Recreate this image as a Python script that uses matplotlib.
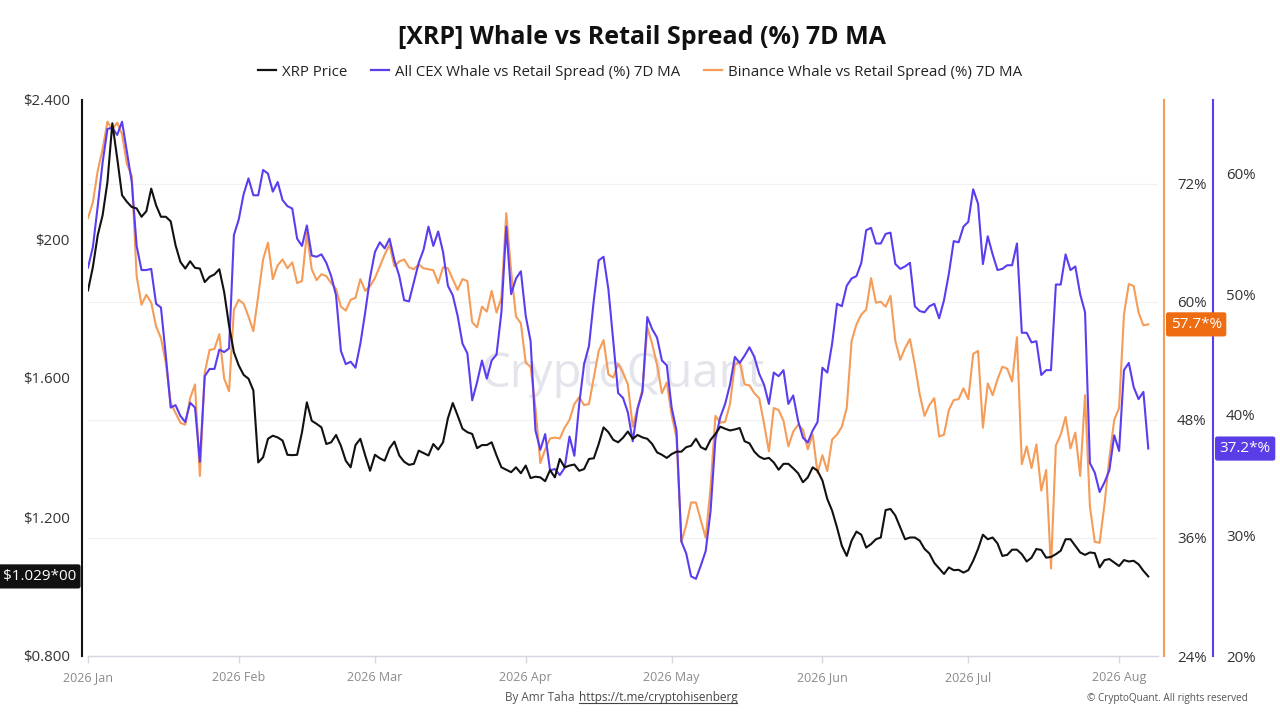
import matplotlib
matplotlib.use('Agg')
import matplotlib.pyplot as plt
import matplotlib.dates as mdates
import pandas as pd
from matplotlib.lines import Line2D

plt.rcParams['font.family'] = ['Open Sans', 'DejaVu Sans']

# ---------------- data (daily, from 2026-01-01) ----------------
price = [
    1.852, 1.919, 2.011, 2.068, 2.164, 2.333, 2.233, 2.126, 2.107, 2.092,
    2.088, 2.064, 2.080, 2.145, 2.097, 2.064, 2.064, 2.051, 1.982, 1.934,
    1.915, 1.936, 1.917, 1.915, 1.876, 1.891, 1.898, 1.913, 1.847, 1.751,
    1.674, 1.636, 1.609, 1.598, 1.564, 1.357, 1.372, 1.425, 1.434, 1.429,
    1.420, 1.379, 1.378, 1.379, 1.444, 1.530, 1.477, 1.468, 1.458, 1.410,
    1.415, 1.436, 1.405, 1.362, 1.343, 1.407, 1.425, 1.377, 1.333, 1.379,
    1.369, 1.362, 1.398, 1.417, 1.377, 1.359, 1.350, 1.353, 1.391, 1.384,
    1.377, 1.410, 1.394, 1.415, 1.484, 1.528, 1.492, 1.454, 1.444, 1.439,
    1.398, 1.407, 1.407, 1.415, 1.377, 1.343, 1.336, 1.329, 1.343, 1.326,
    1.348, 1.312, 1.316, 1.314, 1.303, 1.335, 1.314, 1.367, 1.343, 1.348,
    1.351, 1.333, 1.338, 1.367, 1.369, 1.410, 1.458, 1.444, 1.422, 1.415,
    1.428, 1.446, 1.425, 1.436, 1.429, 1.425, 1.410, 1.386, 1.379, 1.370,
    1.381, 1.388, 1.388, 1.401, 1.405, 1.425, 1.401, 1.394, 1.422, 1.439,
    1.460, 1.454, 1.449, 1.452, 1.456, 1.418, 1.412, 1.388, 1.374, 1.367,
    1.370, 1.357, 1.336, 1.353, 1.353, 1.340, 1.326, 1.300, 1.314, 1.343,
    1.333, 1.305, 1.252, 1.218, 1.170, 1.117, 1.088, 1.132, 1.158, 1.149,
    1.112, 1.122, 1.136, 1.141, 1.220, 1.223, 1.204, 1.170, 1.136,
    1.141, 1.141, 1.132, 1.108, 1.095, 1.068, 1.052, 1.036, 1.055, 1.047,
    1.048, 1.040, 1.047, 1.074, 1.108, 1.149, 1.136, 1.141, 1.124, 1.088,
    1.091, 1.106, 1.106, 1.093, 1.072, 1.083, 1.108, 1.105, 1.083, 1.085,
    1.093, 1.103, 1.136, 1.136, 1.117, 1.098, 1.091, 1.098, 1.096, 1.055,
    1.076, 1.079, 1.069, 1.059, 1.076, 1.072, 1.074, 1.064, 1.045, 1.029,
]

all_cex_spread = [
    52.2, 53.9, 57.3, 60.9, 63.7, 63.8, 63.2, 64.3, 61.8, 59.3,
    54.0, 52.0, 52.0, 52.1, 49.2, 48.9, 44.9, 40.6, 40.8, 39.9,
    39.4, 41.0, 40.6, 36.1, 43.2, 43.8, 43.8, 45.4, 45.2, 45.5,
    54.9, 56.2, 58.3, 59.6, 58.2, 58.2, 60.3, 60.0, 58.5, 59.3,
    57.8, 57.3, 57.1, 54.6, 54.0, 55.7, 53.2, 53.1, 53.3, 52.6,
    51.5, 49.9, 45.3, 44.2, 44.4, 43.9, 45.9, 48.5, 51.4, 53.5,
    54.3, 53.8, 54.6, 52.8, 51.5, 49.5, 49.4, 51.0, 52.6, 53.7,
    55.6, 54.0, 55.2, 53.5, 50.7, 49.9, 48.2, 45.9, 45.1, 41.2,
    42.7, 44.5, 43.0, 44.5, 45.0, 48.5, 55.6, 50.0, 51.3, 51.9,
    48.2, 46.1, 38.7, 37.1, 38.4, 35.4, 35.5, 35.0, 35.6, 38.2,
    36.6, 40.9, 44.2, 45.7, 49.5, 52.8, 53.1, 50.4, 46.1, 41.8,
    41.4, 40.2, 37.8, 40.5, 41.9, 48.1, 47.1, 46.4, 44.5, 44.1,
    40.6, 38.7, 29.5, 28.5, 26.6, 26.4, 27.5, 28.7, 32.0, 38.0,
    39.8, 40.9, 42.5, 44.8, 44.3, 44.9, 45.6, 44.8, 43.4, 42.5,
    40.9, 43.5, 43.2, 43.7, 40.9, 41.6, 39.5, 38.1, 37.7, 38.7,
    39.4, 43.9, 43.5, 45.9, 49.2, 49.0, 50.7, 51.3, 51.5, 52.6,
    55.3, 55.5, 54.2, 54.2, 55.0, 55.1, 52.5, 52.1, 52.3,
    52.6, 49.0, 48.6, 48.5, 49.0, 49.2, 48.0, 49.5, 51.7, 54.4,
    54.3, 55.6, 56.0, 58.7, 57.5, 52.5, 54.8, 53.3, 52.0, 52.1,
    52.4, 52.4, 54.2, 46.8, 46.8, 46.0, 46.1, 43.3, 43.7, 43.7,
    50.8, 50.8, 53.3, 52.0, 52.3, 50.0, 48.5, 36.0, 35.2, 33.6,
    34.4, 35.4, 38.3, 37.0, 43.7, 44.3, 42.3, 41.3, 41.9, 37.2,
]

binance_spread = [
    68.5, 70.1, 73.3, 75.5, 78.3, 77.5, 78.2, 77.0, 74.0, 72.8,
    62.6, 59.7, 60.7, 59.9, 57.5, 56.3, 53.8, 49.7, 48.7, 47.7,
    47.5, 50.2, 51.6, 42.3, 52.8, 55.1, 55.2, 56.7, 52.2, 50.9,
    59.2, 60.2, 59.8, 58.5, 57.0, 60.6, 64.3, 66.0, 62.3, 63.7,
    64.3, 63.4, 64.0, 61.9, 62.1, 67.0, 63.3, 62.2, 62.8, 62.6,
    61.9, 61.3, 59.5, 59.1, 60.2, 60.4, 62.3, 61.1, 61.6, 62.4,
    63.6, 64.8, 65.8, 63.6, 64.1, 64.3, 63.5, 63.3, 63.8, 63.4,
    63.3, 63.2, 61.9, 63.5, 63.4, 62.3, 61.2, 62.3, 62.1, 57.9,
    57.4, 59.5, 59.0, 61.1, 58.9, 60.4, 69.0, 63.1, 58.5, 57.8,
    53.8, 53.4, 49.2, 43.6, 45.0, 46.1, 46.2, 46.1, 47.2, 48.0,
    49.6, 50.3, 49.5, 49.6, 52.3, 55.0, 56.1, 52.6, 52.3, 53.7,
    52.8, 51.6, 47.3, 49.2, 51.1, 57.4, 55.7, 53.6, 50.7, 51.8,
    48.5, 46.2, 35.6, 37.3, 39.6, 39.6, 37.8, 36.0, 41.1, 48.4,
    47.7, 47.8, 49.6, 53.6, 53.9, 51.6, 51.5, 50.7, 50.2, 47.6,
    44.8, 49.2, 49.0, 47.9, 45.3, 46.8, 47.5, 47.0, 45.0, 46.5,
    42.6, 44.4, 42.8, 46.0, 46.5, 47.3, 49.2, 56.0, 57.7, 58.7,
    59.2, 62.4, 59.9, 60.0, 59.5, 60.6, 56.0, 54.1, 55.3,
    56.2, 53.6, 50.6, 48.4, 49.5, 50.2, 46.3, 46.5, 49.0, 50.0,
    50.1, 51.2, 50.1, 54.7, 55.0, 47.2, 51.7, 50.5, 52.1, 53.4,
    53.2, 51.9, 56.4, 43.5, 45.3, 43.1, 45.5, 40.8, 42.9, 32.9,
    45.4, 46.5, 48.3, 45.1, 46.7, 42.3, 50.5, 39.2, 35.6, 35.5,
    39.4, 44.1, 48.0, 49.2, 58.7, 61.8, 61.6, 58.9, 57.6, 57.7,
]

start_date = '2026-01-01'
price_ticks = [0.8, 1.2, 1.6, 2.0, 2.4]
price_tick_labels = ['$0.800', '$1.200', '$1.600', '$200', '$2.400']
binance_ticks = [24, 36, 48, 60, 72]
allcex_ticks = [20, 30, 40, 50, 60]
series_labels = ['XRP Price',
                 'All CEX Whale vs Retail Spread (%) 7D MA',
                 'Binance Whale vs Retail Spread (%) 7D MA']

dates = pd.date_range(start_date, periods=len(price), freq='D')
dates_a = pd.date_range(start_date, periods=len(all_cex_spread), freq='D')
dates_b = pd.date_range(start_date, periods=len(binance_spread), freq='D')

# ---------------- style ----------------
C_PRICE = '#111111'
C_ALL = '#5b3df0'
C_BIN = '#f59c58'
C_BIN_BOX = '#ee6c12'
C_ALL_BOX = '#5a3de6'
AXIS_GREY = '#d6d6e0'
PX = 72 / 100  # points per pixel

W, H = 1280, 720
fig = plt.figure(figsize=(W / 100, H / 100), dpi=100, facecolor='white')
L, R, T, B = 88, 1158, 100, 656
ax = fig.add_axes([L / W, 1 - B / H, (R - L) / W, (B - T) / H])
ax_b = ax.twinx()
ax_a = ax.twinx()

ax_b.set_zorder(1)
ax_a.set_zorder(2)
ax.set_zorder(3)
for a in (ax, ax_b, ax_a):
    a.patch.set_visible(False)
    a.spines['top'].set_visible(False)

# lines
ax_b.plot(dates_b, binance_spread, color=C_BIN, lw=1.5, solid_joinstyle='round')
ax_a.plot(dates_a, all_cex_spread, color=C_ALL, lw=1.5, solid_joinstyle='round')
ax.plot(dates, price, color=C_PRICE, lw=1.5, solid_joinstyle='round')

# x axis
x0 = pd.Timestamp(start_date)
ax.set_xlim(x0, x0 + pd.Timedelta(days=220))
ax.xaxis.set_major_locator(mdates.MonthLocator())
ax.xaxis.set_major_formatter(mdates.DateFormatter('%Y %b'))
ax.tick_params(axis='x', length=5, width=1, color=AXIS_GREY, pad=6,
               labelsize=9, labelcolor='#8a8a8a')
ax.spines['bottom'].set_color(AXIS_GREY)
ax.spines['bottom'].set_linewidth(1)

# left price axis
ax.set_ylim(0.8, 2.4)
ax.set_yticks(price_ticks)
ax.set_yticklabels(price_tick_labels)
ax.tick_params(axis='y', length=0, pad=12 * PX, labelsize=10.8, labelcolor='#333333')
ax.spines['left'].set_position(('outward', 6 * PX))
ax.spines['left'].set_color(C_PRICE)
ax.spines['left'].set_linewidth(1.5)
ax.spines['right'].set_visible(False)

# binance axis
ax_b.set_ylim(24, 80.5)
ax_b.set_yticks(binance_ticks)
ax_b.set_yticklabels([f'{v}%' for v in binance_ticks])
ax_b.tick_params(axis='y', length=0, pad=13 * PX, labelsize=10.8, labelcolor='#333333')
ax_b.spines['right'].set_position(('outward', 6 * PX))
ax_b.spines['right'].set_color(C_BIN)
ax_b.spines['right'].set_linewidth(1.5)
for s in ('left', 'bottom'):
    ax_b.spines[s].set_visible(False)
ax_b.yaxis.grid(True, color='#f1f1f4', lw=0.9)
ax_b.set_axisbelow(True)

# all cex axis
ax_a.set_ylim(20, 66.1)
ax_a.set_yticks(allcex_ticks)
ax_a.set_yticklabels([f'{v}%' for v in allcex_ticks])
ax_a.tick_params(axis='y', length=0, pad=13 * PX, labelsize=10.8, labelcolor='#333333')
ax_a.spines['right'].set_position(('outward', 55 * PX))
ax_a.spines['right'].set_color(C_ALL)
ax_a.spines['right'].set_linewidth(1.5)
for s in ('left', 'bottom'):
    ax_a.spines[s].set_visible(False)

# last-value boxes
box_kw = dict(boxstyle='round,pad=0.3,rounding_size=0.15', ec='none')
ax.annotate(f'${price[-1]:.3f}*00', xy=(0, price[-1]),
            xycoords=ax.get_yaxis_transform(), xytext=(-12 * PX, 0),
            textcoords='offset points', ha='right', va='center',
            color='white', fontsize=11, bbox=dict(fc='#111111', **box_kw),
            annotation_clip=False, zorder=10)
ax.annotate(f'{binance_spread[-1]:.1f}*%', xy=(1, binance_spread[-1]),
            xycoords=ax_b.get_yaxis_transform(), xytext=(12.6 * PX, 0),
            textcoords='offset points', ha='left', va='center',
            color='white', fontsize=11, bbox=dict(fc=C_BIN_BOX, **box_kw),
            annotation_clip=False, zorder=10)
ax.annotate(f'{all_cex_spread[-1]:.1f}*%', xy=(1, all_cex_spread[-1]),
            xycoords=ax_a.get_yaxis_transform(), xytext=(61.6 * PX, 0),
            textcoords='offset points', ha='left', va='center',
            color='white', fontsize=11, bbox=dict(fc=C_ALL_BOX, **box_kw),
            annotation_clip=False, zorder=10)

# watermark
fig.text(622 / W, 1 - 374 / H, 'CryptoQuant', fontsize=34, color='#e4e4ec',
         ha='center', va='center', zorder=0)

# title and legend
fig.text(642 / W, 1 - 38 / H, '[XRP] Whale vs Retail Spread (%) 7D MA',
         ha='center', va='center', fontsize=18, fontweight='bold', color='#111111')
handles = [Line2D([], [], color=c, lw=1.6) for c in (C_PRICE, C_ALL, C_BIN)]
fig.legend(handles, series_labels, loc='center', bbox_to_anchor=(640 / W, 1 - 72 / H),
           ncol=3, frameon=False, fontsize=10.8, handlelength=1.2,
           handletextpad=0.4, columnspacing=1.6, labelcolor='#222222')

# footer
t1 = fig.text(505 / W, 1 - 697 / H, 'By Amr Taha', ha='left', va='center',
              fontsize=8.5, color='#555555')
fig.canvas.draw()
bb1 = t1.get_window_extent()
t2 = fig.text((bb1.x1 + 4) / W, 1 - 697 / H, 'https://t.me/cryptohisenberg',
              ha='left', va='center', fontsize=8.5, color='#444444')
fig.text(1248 / W, 1 - 698 / H, '\u00a9 CryptoQuant. All rights reserved',
         ha='right', va='center', fontsize=7.2, color='#555555')
fig.canvas.draw()
bb2 = t2.get_window_extent()
fig.add_artist(Line2D([bb2.x0 / W, bb2.x1 / W], [(bb2.y0 + 1) / H, (bb2.y0 + 1) / H],
                      transform=fig.transFigure, color='#444444', lw=0.8))

fig.savefig('out.png', dpi=100, facecolor='white')
